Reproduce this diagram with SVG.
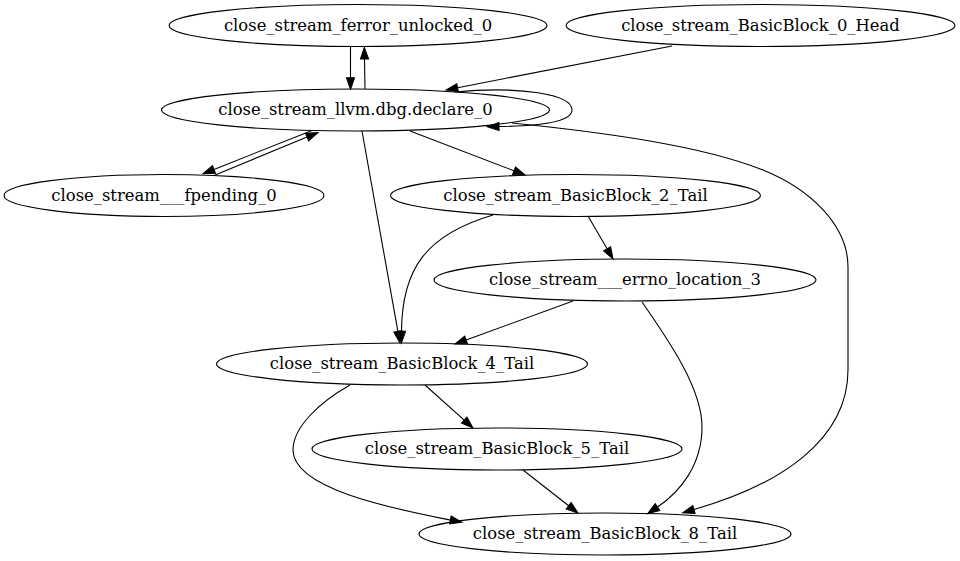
<svg xmlns="http://www.w3.org/2000/svg" width="960" height="561" viewBox="0 0 960 561">
<defs>
<style>
.node ellipse{fill:none;stroke:#000;stroke-width:1.1}
.node text{font-family:"DejaVu Serif","Liberation Serif",serif;font-size:16.4px;text-anchor:middle;fill:#000}
.edge path{fill:none;stroke:#000;stroke-width:1.1;marker-end:url(#arr)}
</style>
<marker id="arr" markerUnits="userSpaceOnUse" markerWidth="14" markerHeight="10" refX="0" refY="0" viewBox="0 -5 14 10" orient="auto" overflow="visible">
<path d="M0,-4.1 L11.8,0 L0,4.1 Z" fill="#000" stroke="#000" stroke-width="1"/>
</marker>
</defs>
<rect width="960" height="561" fill="#fff"/>
<g id="edges" class="edge">
<path d="M350.5,47 L350.5,77.7"/>
<path d="M365,89 L364.5,59"/>
<path d="M672,46 L457.6,87.7"/>
<path d="M455,92 C520,86 572,94 572,110 C572,122 540,126 499,126.5"/>
<path d="M312,130.5 L214,169.4"/>
<path d="M214,175.5 L307.1,137"/>
<path d="M410,131 L514,170.8"/>
<path d="M362,131 L397.9,331.4"/>
<path d="M493,215 C425,235 402,270 401.5,331.2"/>
<path d="M588,216 L607.1,248.8"/>
<path d="M573,301 L466.1,340"/>
<path d="M642,302 C672,345 702,390 702,427 C702,465 680,492 657.5,507"/>
<path d="M425,385 L464.2,420.1"/>
<path d="M350,385 C318,403 293,428 293,450 C293,490 400,510 450.3,520"/>
<path d="M523,470 L568.7,505.7"/>
<path d="M512,123 C600,132 700,145 763,170 C810,189 848,225 848,267 L848,370 C848,440 780,485 694,509.5"/>
</g>
<g id="ferror" class="node"><ellipse cx="358" cy="25.5" rx="189" ry="21"/><text x="358" y="30.8">close_stream_ferror_unlocked_0</text></g>
<g id="bb0" class="node"><ellipse cx="760.5" cy="25.5" rx="194.5" ry="21"/><text x="760.5" y="30.8">close_stream_BasicBlock_0_Head</text></g>
<g id="llvm" class="node"><ellipse cx="355.5" cy="110" rx="194" ry="21"/><text x="355.5" y="115.3">close_stream_llvm.dbg.declare_0</text></g>
<g id="fpending" class="node"><ellipse cx="164" cy="195.5" rx="160" ry="21"/><text x="164" y="200.8">close_stream___fpending_0</text></g>
<g id="bb2" class="node"><ellipse cx="575.5" cy="195.5" rx="185" ry="21"/><text x="575.5" y="200.8">close_stream_BasicBlock_2_Tail</text></g>
<g id="errno" class="node"><ellipse cx="625" cy="280" rx="191" ry="21"/><text x="625" y="285.3">close_stream___errno_location_3</text></g>
<g id="bb4" class="node"><ellipse cx="402" cy="364" rx="185.5" ry="21"/><text x="402" y="369.3">close_stream_BasicBlock_4_Tail</text></g>
<g id="bb5" class="node"><ellipse cx="497" cy="449" rx="185" ry="21"/><text x="497" y="454.3">close_stream_BasicBlock_5_Tail</text></g>
<g id="bb8" class="node"><ellipse cx="605" cy="534" rx="186" ry="21"/><text x="605" y="539.3">close_stream_BasicBlock_8_Tail</text></g>
</svg>
